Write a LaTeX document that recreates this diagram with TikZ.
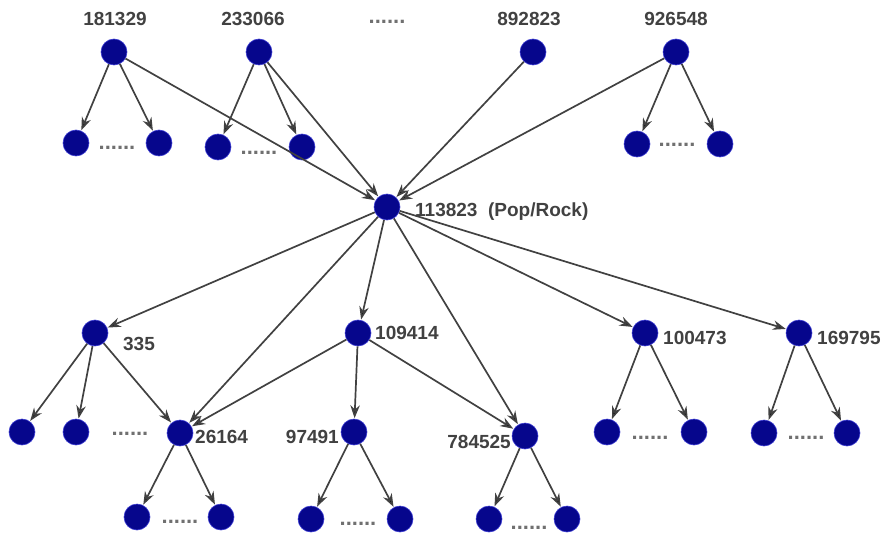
\documentclass[tikz,border=0pt]{standalone}
\usepackage{fontspec}
\setmainfont{Liberation Sans}
\usepackage{tikz}
\usetikzlibrary{arrows.meta, positioning}

\definecolor{vblue}{RGB}{6,6,140}
\definecolor{vrim}{RGB}{60,60,210}
\definecolor{ink}{RGB}{65,65,65}

\begin{document}
\begin{tikzpicture}[x=1pt,y=-1pt,shorten >=0.5pt,>={Stealth[length=13pt,width=9.5pt]},
        vert/.style={circle,fill=vblue,draw=vrim,line width=0.6pt,minimum size=26pt,inner sep=0pt},
        lbl/.style={text=ink,font=\fontsize{19}{21}\selectfont\bfseries,inner sep=0pt},
        gap/.style={text=ink!75,font=\fontsize{22}{22}\selectfont\bfseries,inner sep=0pt}]

    \useasboundingbox (0,0) rectangle (882,537);

    % top level
    \node[vert] (t181329) at (114,52)  {};
    \node[vert] (t233066) at (259,52)  {};
    \node[vert] (t892823) at (533,52)  {};
    \node[vert] (t926548) at (676,52)  {};
    \node[lbl] (l181329) at (115,19) {181329};
    \node[lbl] (l233066) at (253,19) {233066};
    \node[lbl] (l892823) at (529,19) {892823};
    \node[lbl] (l926548) at (676,19) {926548};
    \node[gap] (s0) at (387,22) {......};

    \node[vert] (a1) at (76,143)  {};
    \node[vert] (a2) at (159,143) {};
    \node[vert] (b1) at (218,147) {};
    \node[vert] (b2) at (302,147) {};
    \node[vert] (d1) at (637,144) {};
    \node[vert] (d2) at (720,144) {};
    \node[gap] (s1) at (117,148) {......};
    \node[gap] (s2) at (259,153) {......};
    \node[gap] (s3) at (677,145) {......};

    % genre node
    \node[vert] (r113823) at (387,207) {};
    \node[lbl,anchor=west] (l113823) at (415,212) {113823~~(Pop/Rock)};

    % second level
    \node[vert] (m335)    at (95,333)  {};
    \node[vert] (m109414) at (358,333) {};
    \node[vert] (m100473) at (645,333) {};
    \node[vert] (m169795) at (799,333) {};
    \node[lbl] (l335)    at (139,344) {335};
    \node[lbl,anchor=west] (l109414) at (375,333) {109414};
    \node[lbl,anchor=west] (l100473) at (663,338) {100473};
    \node[lbl,anchor=west] (l169795) at (817,338) {169795};

    \node[vert] (e1) at (22,432)  {};
    \node[vert] (e2) at (76,432)  {};
    \node[vert] (m26164)  at (180,433) {};
    \node[vert] (m97491)  at (354,432) {};
    \node[vert] (m784525) at (525,436) {};
    \node[vert] (f1) at (607,432) {};
    \node[vert] (f2) at (694,432) {};
    \node[vert] (g1) at (764,433) {};
    \node[vert] (g2) at (847,433) {};
    \node[lbl,anchor=west] (l26164) at (195,437) {26164};
    \node[lbl,anchor=east] (l97491) at (339,437) {97491};
    \node[lbl,anchor=east] (l784525) at (511,442) {784525};
    \node[gap] (s4) at (130,434) {......};
    \node[gap] (s5) at (650,438) {......};
    \node[gap] (s6) at (806,438) {......};

    % bottom level
    \node[vert] (h1) at (137,517) {};
    \node[vert] (h2) at (221,517) {};
    \node[vert] (k1) at (311,519) {};
    \node[vert] (k2) at (400,519) {};
    \node[vert] (p1) at (489,519) {};
    \node[vert] (p2) at (567,519) {};
    \node[gap] (s7) at (180,522) {......};
    \node[gap] (s8) at (358,524) {......};
    \node[gap] (s9) at (529,528) {......};

    \path[->,draw=ink,line width=1.7pt]
        (t181329) edge (a1) edge (a2) edge (r113823)
        (t233066) edge (b1) edge (b2) edge (r113823)
        (t892823) edge (r113823)
        (t926548) edge (d1) edge (d2) edge (r113823)
        (r113823) edge (m335) edge (m26164) edge (m109414)
                  edge (m784525) edge (m100473) edge (m169795)
        (m335)    edge (e1) edge (e2) edge (m26164)
        (m109414) edge (m26164) edge (m97491) edge (m784525)
        (m26164)  edge (h1) edge (h2)
        (m97491)  edge (k1) edge (k2)
        (m784525) edge (p1) edge (p2)
        (m100473) edge (f1) edge (f2)
        (m169795) edge (g1) edge (g2);
\end{tikzpicture}
\end{document}
